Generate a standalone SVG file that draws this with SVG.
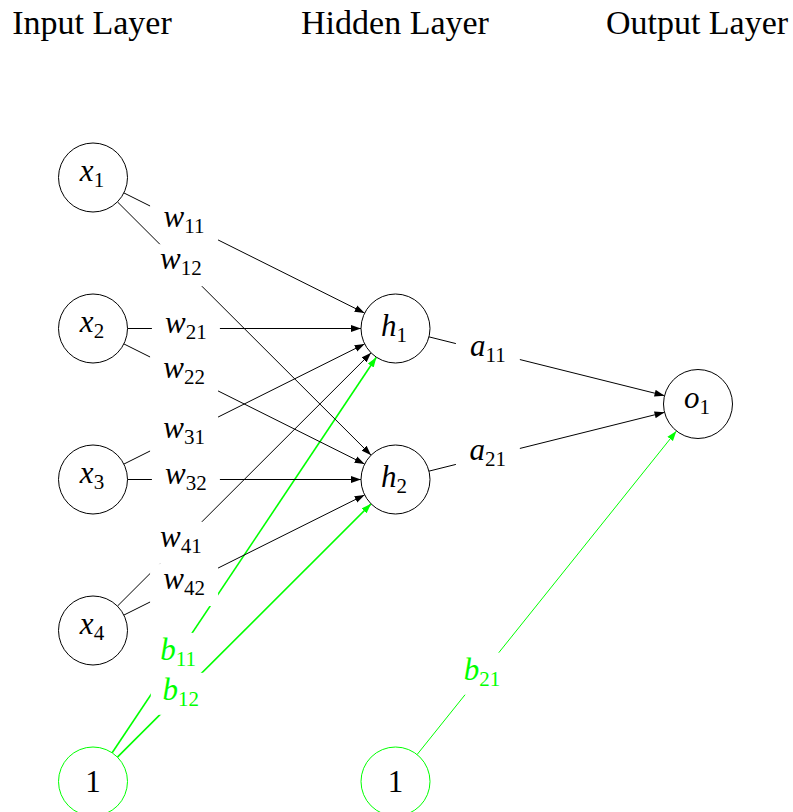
<svg xmlns="http://www.w3.org/2000/svg" width="793" height="812" viewBox="0 0 793 812">
<style>
  .hdr { font-family: "Liberation Serif", "Times New Roman", serif; font-size: 34px; fill: #000; text-anchor: middle; }
  .m { font-family: "Liberation Serif", "Times New Roman", serif; font-size: 31px; font-style: italic; text-anchor: middle; }
  .s { font-size: 21px; font-style: normal; }
  .num { font-family: "Liberation Serif", "Times New Roman", serif; font-size: 31px; text-anchor: middle; fill: #000; }
  .node { fill: #fff; stroke: #000; stroke-width: 1; }
  .bnode { fill: #fff; stroke: #00ff00; stroke-width: 1; }
  .e { stroke: #000; stroke-width: 1; fill: none; marker-end: url(#ah); }
  .eg { stroke: #00ff00; stroke-width: 1.6; fill: none; marker-end: url(#ahg); }
  .eg2 { stroke: #00ff00; stroke-width: 1; fill: none; marker-end: url(#ahg); }
  .lb { fill: #fff; stroke: none; }
  .blk { fill: #000; }
  .grn { fill: #00ff00; }
</style>
<defs>
  <marker id="ah" markerUnits="userSpaceOnUse" markerWidth="10" markerHeight="8" refX="10" refY="4" orient="auto" viewBox="0 0 10 8">
    <path d="M0,0.5 L10,4 L0,7.5 z" fill="#000"/>
  </marker>
  <marker id="ahg" markerUnits="userSpaceOnUse" markerWidth="10" markerHeight="8" refX="10" refY="4" orient="auto" viewBox="0 0 10 8">
    <path d="M0,0.5 L10,4 L0,7.5 z" fill="#00ff00"/>
  </marker>
</defs>
<rect width="793" height="812" fill="#fff"/>

<g id="headers">
  <text class="hdr" x="92" y="34">Input Layer</text>
  <text class="hdr" x="395" y="34">Hidden Layer</text>
  <text class="hdr" x="697" y="34">Output Layer</text>
</g>

<g id="connectors">
  <g id="e-b-h1">
    <line class="eg" x1="112.16" y1="752.81" x2="376.34" y2="357.19"/>
    <rect class="lb" x="148.2" y="632.9" width="60" height="42"/>
    <text class="m grn" x="178.2" y="660">b<tspan class="s" dy="6">11</tspan></text>
  </g>
  <g id="e-b-h2">
    <line class="eg" x1="117.41" y1="757.13" x2="371.09" y2="503.87"/>
    <rect class="lb" x="150.8" y="672.8" width="60" height="42"/>
    <text class="m grn" x="180.8" y="700">b<tspan class="s" dy="6">12</tspan></text>
  </g>
  <g id="e-x1-h1">
    <line class="e" x1="123.87" y1="192.91" x2="364.63" y2="313.09"/>
    <rect class="lb" x="150.06" y="201.96" width="68" height="42"/>
    <text class="m blk" x="184.06" y="227">w<tspan class="s" dy="6">11</tspan></text>
  </g>
  <g id="e-x2-h1">
    <line class="e" x1="127.5" y1="328.5" x2="361" y2="328.5"/>
    <rect class="lb" x="151.9" y="307.5" width="68" height="42"/>
    <text class="m blk" x="185.9" y="333">w<tspan class="s" dy="6">21</tspan></text>
  </g>
  <g id="e-x3-h1">
    <line class="e" x1="123.87" y1="464.09" x2="364.63" y2="343.91"/>
    <rect class="lb" x="150.06" y="413.04" width="68" height="42"/>
    <text class="m blk" x="184.06" y="438">w<tspan class="s" dy="6">31</tspan></text>
  </g>
  <g id="e-x4-h1">
    <line class="e" x1="117.41" y1="606.13" x2="371.09" y2="352.87"/>
    <rect class="lb" x="146.83" y="521.82" width="68" height="42"/>
    <text class="m blk" x="180.83" y="547">w<tspan class="s" dy="6">41</tspan></text>
  </g>
  <g id="e-x1-h2">
    <line class="e" x1="117.41" y1="201.87" x2="371.09" y2="455.13"/>
    <rect class="lb" x="146.83" y="244.19" width="68" height="42"/>
    <text class="m blk" x="180.83" y="269">w<tspan class="s" dy="6">12</tspan></text>
  </g>
  <g id="e-x2-h2">
    <line class="e" x1="123.87" y1="343.91" x2="364.63" y2="464.09"/>
    <rect class="lb" x="150.06" y="352.96" width="68" height="42"/>
    <text class="m blk" x="184.06" y="378">w<tspan class="s" dy="6">22</tspan></text>
  </g>
  <g id="e-x3-h2">
    <line class="e" x1="127.5" y1="479.5" x2="361" y2="479.5"/>
    <rect class="lb" x="151.9" y="458.5" width="68" height="42"/>
    <text class="m blk" x="185.9" y="484">w<tspan class="s" dy="6">32</tspan></text>
  </g>
  <g id="e-x4-h2">
    <line class="e" x1="123.87" y1="615.09" x2="364.63" y2="494.91"/>
    <rect class="lb" x="150.06" y="564.04" width="68" height="42"/>
    <text class="m blk" x="184.06" y="589">w<tspan class="s" dy="6">42</tspan></text>
  </g>
  <g id="e-h1-o1">
    <line class="e" x1="428.97" y1="336.86" x2="664.53" y2="395.64"/>
    <rect class="lb" x="455.86" y="330.56" width="64" height="42"/>
    <text class="m blk" x="487.86" y="356">a<tspan class="s" dy="6">11</tspan></text>
  </g>
  <g id="e-h2-o1">
    <line class="e" x1="428.97" y1="471.14" x2="664.53" y2="412.36"/>
    <rect class="lb" x="455.86" y="434.94" width="64" height="42"/>
    <text class="m blk" x="487.86" y="460">a<tspan class="s" dy="6">21</tspan></text>
  </g>
  <g id="e-b2-o1">
    <line class="eg2" x1="417.07" y1="754.58" x2="676.43" y2="431.08"/>
    <rect class="lb" x="451.91" y="652.7" width="60" height="42"/>
    <text class="m grn" x="481.91" y="680">b<tspan class="s" dy="6">21</tspan></text>
  </g>
</g>

<g id="node-x1">
  <circle class="node" cx="93" cy="177.5" r="34.5"/>
  <text class="m blk" x="92" y="181">x<tspan class="s" dy="6">1</tspan></text>
</g>
<g id="node-x2">
  <circle class="node" cx="93" cy="328.5" r="34.5"/>
  <text class="m blk" x="92" y="332">x<tspan class="s" dy="6">2</tspan></text>
</g>
<g id="node-x3">
  <circle class="node" cx="93" cy="479.5" r="34.5"/>
  <text class="m blk" x="92" y="483">x<tspan class="s" dy="6">3</tspan></text>
</g>
<g id="node-x4">
  <circle class="node" cx="93" cy="630.5" r="34.5"/>
  <text class="m blk" x="92" y="634">x<tspan class="s" dy="6">4</tspan></text>
</g>
<g id="node-bias1">
  <circle class="bnode" cx="93" cy="781.5" r="34.5"/>
  <text class="num" x="93" y="792">1</text>
</g>
<g id="node-h1">
  <circle class="node" cx="395.5" cy="328.5" r="34.5"/>
  <text class="m blk" x="394" y="336">h<tspan class="s" dy="6">1</tspan></text>
</g>
<g id="node-h2">
  <circle class="node" cx="395.5" cy="479.5" r="34.5"/>
  <text class="m blk" x="394" y="487">h<tspan class="s" dy="6">2</tspan></text>
</g>
<g id="node-bias2">
  <circle class="bnode" cx="395.5" cy="781.5" r="34.5"/>
  <text class="num" x="395.5" y="792">1</text>
</g>
<g id="node-o1">
  <circle class="node" cx="698" cy="404" r="34.5"/>
  <text class="m blk" x="697" y="408">o<tspan class="s" dy="6">1</tspan></text>
</g>
</svg>
